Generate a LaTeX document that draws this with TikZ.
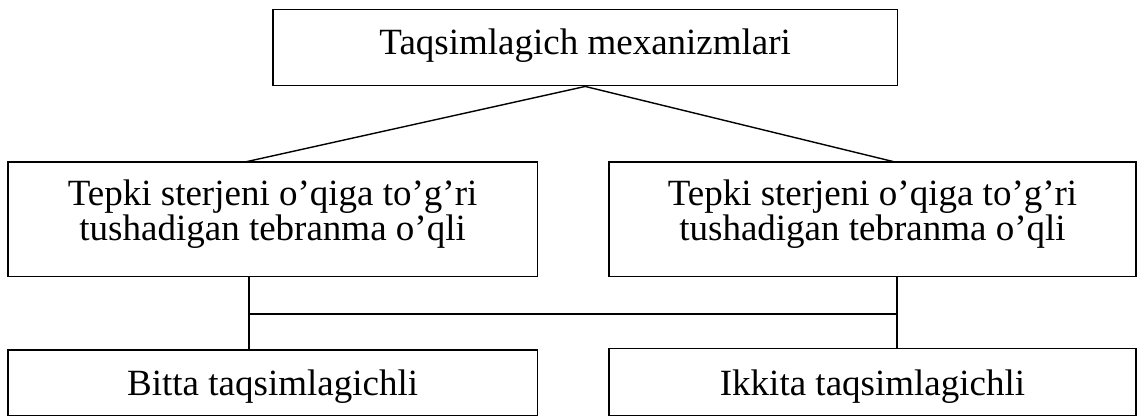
\documentclass[tikz,border=0pt]{standalone}
\usepackage{fontspec}
\setmainfont{Liberation Serif}
\begin{document}
\begin{tikzpicture}[x=1pt,y=-1pt,
  box/.style={draw=black, line width=1.5pt, inner sep=0pt, fill=none},
  txt/.style={inner sep=0pt, anchor=base, font=\fontsize{37}{37}\selectfont},
  conn/.style={draw=black, line width=1.4pt}]
\useasboundingbox (0,0) rectangle (1137,417);
% boxes
\node[box, minimum width=624.5pt, minimum height=76pt] (top) at (585.2,47.7) {};
\node[box, minimum width=529.3pt, minimum height=114.7pt] (ml) at (272.6,219.3) {};
\node[box, minimum width=527pt, minimum height=114.5pt] (mr) at (872.5,219.3) {};
\node[box, minimum width=529.3pt, minimum height=65.7pt] (bl) at (272.6,382.8) {};
\node[box, minimum width=527pt, minimum height=67pt] (br) at (872.5,382.2) {};
% texts
\node[txt] (topt) at (585.2,55) {Taqsimlagich mexanizmlari};
\node[txt] (mlt1) at (272.6,205.7) {Tepki sterjeni o’qiga to’g’ri};
\node[txt] (mlt2) at (272.6,240.5) {tushadigan tebranma o’qli};
\node[txt] (mrt1) at (872.5,205.7) {Tepki sterjeni o’qiga to’g’ri};
\node[txt] (mrt2) at (872.5,240.5) {tushadigan tebranma o’qli};
\node[txt] (blt) at (272.6,395) {Bitta taqsimlagichli};
\node[txt] (brt) at (872.5,395) {Ikkita taqsimlagichli};
% connector points
\coordinate (lj) at (245,162);
\coordinate (rj) at (895,162);
\coordinate (lv) at (249,314);
\coordinate (rv) at (897,314);
% connectors
\draw[conn] (top.south) -- (lj);
\draw[conn] (top.south) -- (rj);
\draw[conn] (ml.south -| lv) -- (bl.north -| lv);
\draw[conn] (lv) -- (rv);
\draw[conn] (mr.south -| rv) -- (br.north -| rv);
\end{tikzpicture}
\end{document}
